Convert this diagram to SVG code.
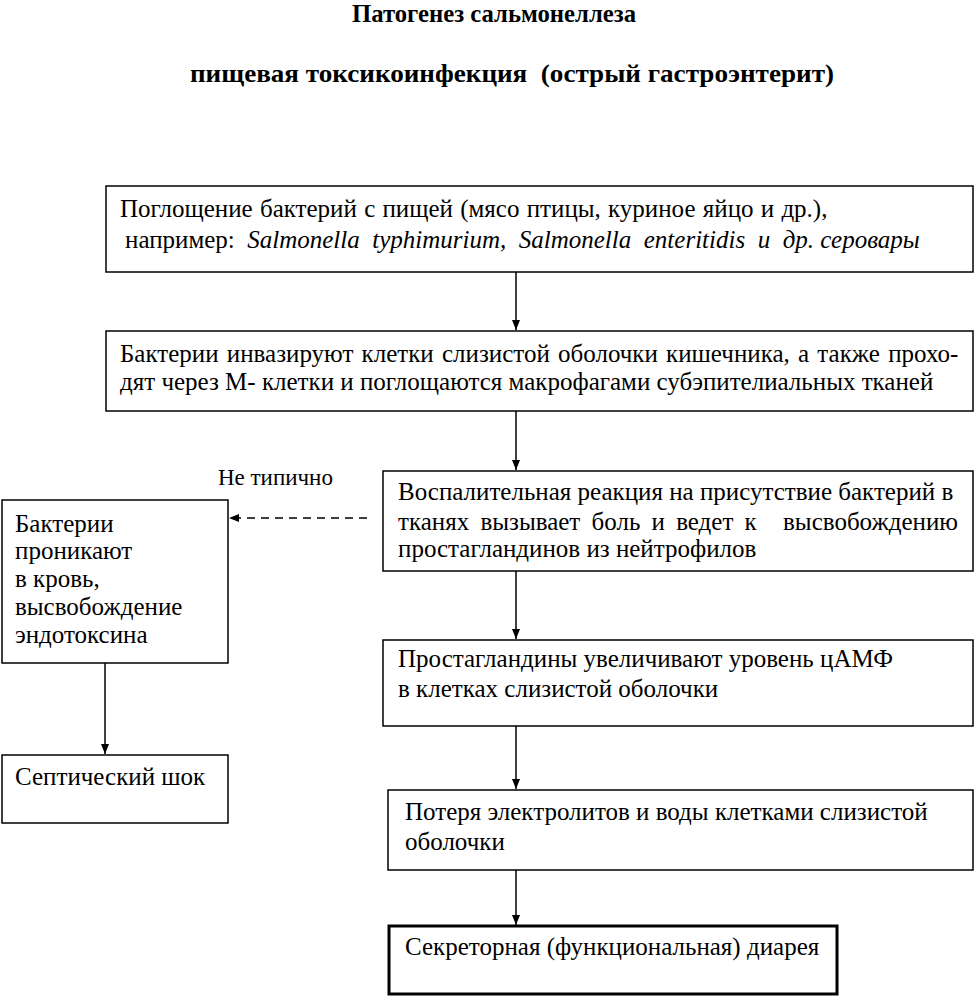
<svg xmlns="http://www.w3.org/2000/svg" width="974" height="996" viewBox="0 0 974 996">
<style>
text{font-family:"Liberation Serif","Times New Roman",serif;font-size:25px;fill:#000}
.t{font-weight:bold;font-size:26px}
.i{font-style:italic}
.box{fill:#fff;stroke:#000;stroke-width:1.5}
.thick{fill:#fff;stroke:#000;stroke-width:3}
.ln{stroke:#000;stroke-width:1.5;fill:none}
.dash{stroke:#000;stroke-width:1.5;fill:none;stroke-dasharray:8,6}
</style>
<defs>
<marker id="ah" markerWidth="10" markerHeight="10" refX="10" refY="5" orient="auto" markerUnits="userSpaceOnUse">
<path d="M0,1 L10,5 L0,9 z" fill="#000"/>
</marker>
</defs>
<rect width="974" height="996" fill="#fff"/>
<g id="title">
<text class="t" x="352" y="22" textLength="284" lengthAdjust="spacingAndGlyphs">Патогенез сальмонеллеза</text>
<text class="t" x="190" y="82" textLength="644" lengthAdjust="spacingAndGlyphs" xml:space="preserve">пищевая токсикоинфекция  (острый гастроэнтерит)</text>
</g>
<g id="connectors">
<line class="ln" x1="516" y1="272" x2="516" y2="330" marker-end="url(#ah)"/>
<line class="ln" x1="516" y1="411" x2="516" y2="470" marker-end="url(#ah)"/>
<line class="dash" x1="367" y1="518" x2="229" y2="518" marker-end="url(#ah)"/>
<line class="ln" x1="516" y1="571" x2="516" y2="639" marker-end="url(#ah)"/>
<line class="ln" x1="516" y1="726" x2="516" y2="789" marker-end="url(#ah)"/>
<line class="ln" x1="516" y1="870" x2="516" y2="925" marker-end="url(#ah)"/>
<line class="ln" x1="105" y1="663" x2="105" y2="754" marker-end="url(#ah)"/>
<text x="218" y="485" style="font-size:23px">Не типично</text>
</g>
<g id="n1">
<rect class="box" x="106" y="186" width="867" height="86"/>
<text x="120" y="217" word-spacing="1">Поглощение бактерий с пищей (мясо птицы, куриное яйцо и др.),</text>
<text x="125" y="248" xml:space="preserve">например:  <tspan class="i">Salmonella  typhimurium,  Salmonella  enteritidis  и  др. серовары</tspan></text>
</g>
<g id="n2">
<rect class="box" x="106" y="331" width="867" height="80"/>
<text x="120" y="362" word-spacing="2">Бактерии инвазируют клетки слизистой оболочки кишечника, а также прохо-</text>
<text x="120" y="390">дят через М- клетки и поглощаются макрофагами субэпителиальных тканей</text>
</g>
<g id="n3">
<rect class="box" x="383" y="471" width="590" height="100"/>
<text x="398" y="500">Воспалительная реакция на присутствие бактерий в</text>
<text x="398" y="530" word-spacing="5">тканях вызывает боль и ведет к</text>
<text x="958" y="530" text-anchor="end">высвобождению</text>
<text x="398" y="557">простагландинов из нейтрофилов</text>
</g>
<g id="n4">
<rect class="box" x="383" y="640" width="590" height="86"/>
<text x="398" y="667">Простагландины увеличивают уровень цАМФ</text>
<text x="398" y="697">в клетках слизистой оболочки</text>
</g>
<g id="n5">
<rect class="box" x="388" y="790" width="585" height="80"/>
<text x="405" y="820">Потеря электролитов и воды клетками слизистой</text>
<text x="405" y="850">оболочки</text>
</g>
<g id="n6">
<rect class="thick" x="389" y="926" width="448" height="68"/>
<text x="405" y="955">Секреторная (функциональная) диарея</text>
</g>
<g id="n7">
<rect class="box" x="2" y="500" width="226" height="163"/>
<text x="15" y="532">Бактерии</text>
<text x="15" y="559">проникают</text>
<text x="15" y="587">в кровь,</text>
<text x="15" y="615">высвобождение</text>
<text x="15" y="643">эндотоксина</text>
</g>
<g id="n8">
<rect class="box" x="2" y="755" width="226" height="68"/>
<text x="15" y="785">Септический шок</text>
</g>
</svg>
